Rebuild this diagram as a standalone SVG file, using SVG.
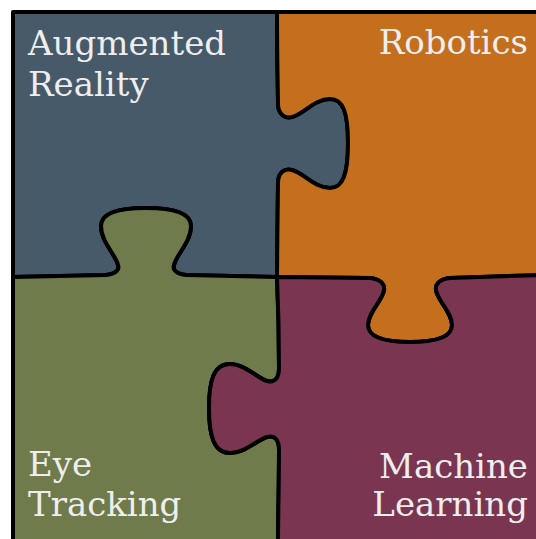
<svg xmlns="http://www.w3.org/2000/svg" width="536" height="539" viewBox="0 0 536 539">
<style>
.piece{stroke:#000;stroke-width:4;stroke-linejoin:round;stroke-linecap:round}
.lbl{font-family:"DejaVu Serif","Liberation Serif",serif;font-size:34px;fill:#eeeeee}
.end{text-anchor:end}
</style>
<rect width="536" height="539" fill="#ffffff"/>
<g id="augmented-reality">
<path class="piece" fill="#465a69" d="M13,12 L277,12 C277,60 278,95 278,104 C278,113 284,119 292,117 C304,114 314,99 330,99 C343,99 348,112 348,143 C348,174 343,188 330,188 C314,188 304,173 292,170 C284,168 278,173 278,183 C278,200 277,250 277,277 L186,275 C178,274 172,271 174,265 C176,255 191,242 191,226 C191,213 174,208 146,208 C118,208 101,213 101,226 C101,242 116,255 118,265 C120,271 114,274 106,275 L13,277 Z"/>
<text class="lbl" x="28" y="55">Augmented</text>
<text class="lbl" x="28" y="96">Reality</text>
</g>
<g id="robotics">
<path class="piece" fill="#c46f1e" d="M277,12 L541,12 L541,275 L450,278 C441,279 435,283 436,290 C437,300 452,312 452,325 C452,338 434,342 410,342 C386,342 368,338 368,325 C368,312 383,300 384,290 C385,283 379,279 370,278 L277,277 C277,250 278,200 278,183 C278,173 284,168 292,170 C304,173 314,188 330,188 C343,188 348,174 348,143 C348,112 343,99 330,99 C314,99 304,114 292,117 C284,119 278,113 278,104 C278,95 277,60 277,12 Z"/>
<text class="lbl end" x="528" y="54">Robotics</text>
</g>
<g id="eye-tracking">
<path class="piece" fill="#6f7b4b" d="M13,277 L106,275 C114,274 120,271 118,265 C116,255 101,242 101,226 C101,213 118,208 146,208 C174,208 191,213 191,226 C191,242 176,255 174,265 C172,271 178,274 186,275 L277,277 C278,300 279,350 279,368 C279,378 275,383 267,381 C257,378 245,364 230,364 C214,364 209,380 209,408 C209,436 214,453 230,453 C245,453 257,440 267,437 C275,435 279,440 279,450 C279,480 278,520 278,545 L13,545 Z"/>
<text class="lbl" x="28" y="476">Eye</text>
<text class="lbl" x="28" y="516">Tracking</text>
</g>
<g id="machine-learning">
<path class="piece" fill="#7a3650" d="M277,277 L370,278 C379,279 385,283 384,290 C383,300 368,312 368,325 C368,338 386,342 410,342 C434,342 452,338 452,325 C452,312 437,300 436,290 C435,283 441,279 450,278 L541,275 L541,545 L278,545 C278,520 279,480 279,450 C279,440 275,435 267,437 C257,440 245,453 230,453 C214,453 209,436 209,408 C209,380 214,364 230,364 C245,364 257,378 267,381 C275,383 279,378 279,368 C279,350 278,300 277,277 Z"/>
<text class="lbl end" x="528" y="478">Machine</text>
<text class="lbl end" x="528" y="516">Learning</text>
</g>
<g id="connectors"></g>
</svg>
